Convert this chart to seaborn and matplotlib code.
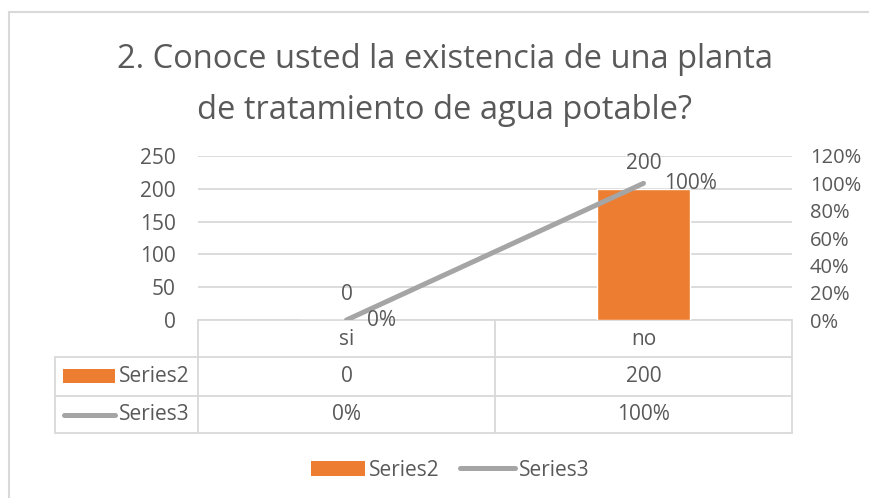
import matplotlib
matplotlib.use("Agg")
import matplotlib.pyplot as plt
import matplotlib.transforms as mtransforms
from matplotlib.patches import Rectangle
from matplotlib.lines import Line2D
import seaborn as sns

# data
categories = ["si", "no"]
series2 = [0, 200]
series3 = [0.0, 1.0]
series2_labels = ["0", "200"]
series3_labels = ["0%", "100%"]
title_lines = ["2. Conoce usted la existencia de una planta",
               "de tratamiento de agua potable?"]

orange = "#ED7D31"
gray = "#A5A5A5"
txt = "#595959"
grid = "#D9D9D9"

sns.set_theme(style="white")
plt.rcParams["font.family"] = ["Open Sans", "DejaVu Sans"]

W, H = 870, 498
fig = plt.figure(figsize=(W / 100, H / 100), dpi=100)

# overlay in pixel coords for frame / table
over = fig.add_axes([0, 0, 1, 1])
over.set_xlim(0, W)
over.set_ylim(H, 0)
over.axis("off")

# plot area
x0, x1, ytop, ybot = 198, 792, 156, 320
ax = fig.add_axes([x0 / W, 1 - ybot / H, (x1 - x0) / W, (ybot - ytop) / H])
sns.barplot(x=categories, y=series2, color=orange, width=0.31, saturation=1, ax=ax, zorder=2)
ax.set_ylim(0, 250)
ax.set_yticks(range(0, 251, 50))
ax.set_xlim(-0.5, 1.5)
ax.yaxis.grid(True, color=grid, lw=1.3, zorder=0)
ax.set_axisbelow(True)
ax.tick_params(axis="y", length=0, pad=16, labelsize=15, labelcolor=txt)
ax.tick_params(axis="x", length=0, labelbottom=False)
ax.set_xlabel("")
ax.set_ylabel("")
for s in ax.spines.values():
    s.set_visible(False)
ax.patch.set_alpha(0)

ax2 = ax.twinx()
sns.lineplot(x=list(range(len(categories))), y=series3, color=gray, lw=3.6,
             solid_capstyle="round", ax=ax2, zorder=3)
ax2.set_ylim(0, 1.2)
ax2.set_yticks([i / 10 for i in range(0, 13, 2)])
ax2.set_yticklabels([f"{i * 10}%" for i in range(0, 13, 2)])
ax2.tick_params(axis="y", length=0, pad=13, labelsize=14.5, labelcolor=txt)
ax2.set_ylabel("")
for s in ax2.spines.values():
    s.set_visible(False)

# data labels
for i, (v, lab) in enumerate(zip(series2, series2_labels)):
    ax.annotate(lab, (i, v), xytext=(0, 18), textcoords="offset points",
                ha="center", va="center", fontsize=15, color=txt)
for i, (v, lab) in enumerate(zip(series3, series3_labels)):
    ax2.annotate(lab, (i, v), xytext=(15, 0), textcoords="offset points",
                 ha="left", va="center", fontsize=15, color=txt)

# chart frame (only left/top visible)
over.add_line(Line2D([9, 9], [12, H], color=grid, lw=1.5))
over.add_line(Line2D([9, W], [12, 12], color=grid, lw=1.5))

# data table
tl = 55
r0, r1, r2, r3 = 320, 357, 396, 433
mid = (x0 + x1) / 2
lk = dict(color=grid, lw=1.3)
over.add_line(Line2D([x0, x1], [r0, r0], **lk))
for r in (r1, r2, r3):
    over.add_line(Line2D([tl, x1], [r, r], **lk))
over.add_line(Line2D([x0, x0], [r0, r3], **lk))
over.add_line(Line2D([mid, mid], [r0, r3], **lk))
over.add_line(Line2D([x1, x1], [r0, r3], **lk))
over.add_line(Line2D([tl, tl], [r1, r3], **lk))

tr = mtransforms.blended_transform_factory(ax.transData, over.transData)
for i, c in enumerate(categories):
    over.text(i, (r0 + r1) / 2 + 1, c, transform=tr, ha="center", va="center", fontsize=15, color=txt)
    over.text(i, (r1 + r2) / 2, series2_labels[i], transform=tr, ha="center", va="center", fontsize=15, color=txt)
    over.text(i, (r2 + r3) / 2, series3_labels[i], transform=tr, ha="center", va="center", fontsize=15, color=txt)

over.add_patch(Rectangle((63, 369), 52, 14, color=orange, lw=0))
over.text(119, (r1 + r2) / 2, "Series2", ha="left", va="center", fontsize=15, color=txt)
over.add_line(Line2D([64, 115], [415, 415], color=gray, lw=3.6, solid_capstyle="round"))
over.text(119, (r2 + r3) / 2, "Series3", ha="left", va="center", fontsize=15, color=txt)

# title
over.text(445, 68, title_lines[0], ha="center", va="baseline", fontsize=23.5, color=txt)
over.text(445, 119, title_lines[1], ha="center", va="baseline", fontsize=23.5, color=txt)

# bottom legend
handles = [Rectangle((0, 0), 1, 1, color=orange, lw=0),
           Line2D([0], [0], color=gray, lw=3.6, solid_capstyle="round")]
fig.legend(handles, ["Series2", "Series3"], loc="center", bbox_to_anchor=(450 / W, 1 - 470 / H),
           ncol=2, frameon=False, fontsize=15, labelcolor=txt, handlelength=2.6,
           handletextpad=0.2, columnspacing=1.0)

fig.savefig("out.png", dpi=100)
